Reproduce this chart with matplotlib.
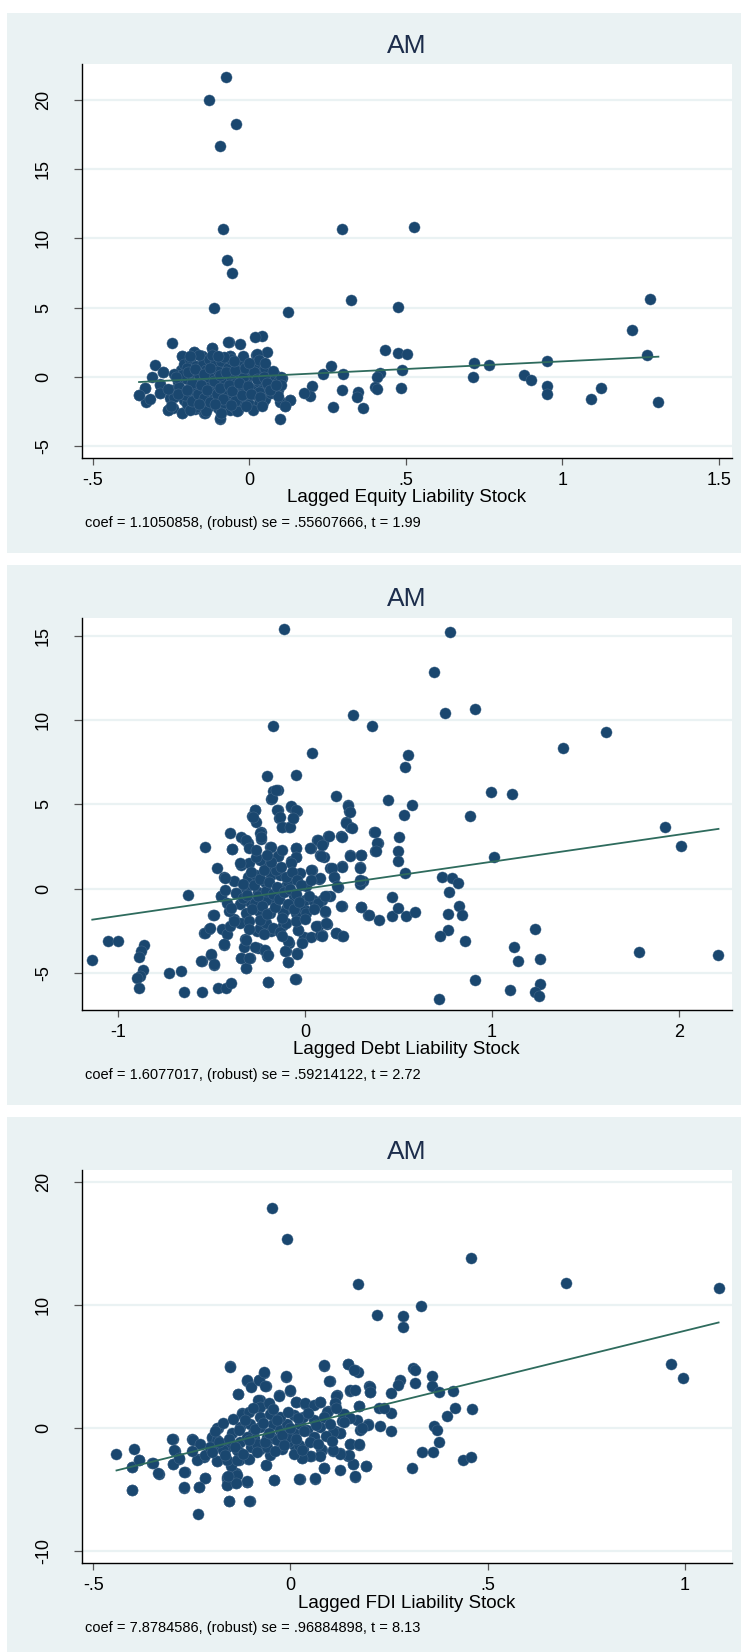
import numpy as np
import matplotlib
matplotlib.use("Agg")
import matplotlib.pyplot as plt
from matplotlib.patches import Rectangle

plt.rcParams['font.family'] = ['Liberation Sans', 'DejaVu Sans']

# residual pairs (x, y) for each added-variable plot
equity_pts = [
    (-0.076, 21.7), (-0.128, 20.0), (-0.044, 18.3), (-0.094, 16.7), (-0.085, 10.7),
    (0.295, 10.65), (0.527, 10.8), (-0.073, 8.45), (-0.056, 7.5), (-0.115, 5.0),
    (0.124, 4.65), (0.323, 5.55), (0.476, 5.05), (1.279, 5.6), (1.222, 3.35),
    (1.270, 1.6), (1.307, -1.83), (1.122, -0.85), (1.091, -1.65), (0.952, 1.16),
    (0.952, -0.7), (0.952, -1.27), (0.878, 0.13), (0.899, -0.26), (0.718, 1.0),
    (0.715, -0.03), (0.766, 0.85), (0.432, 1.91), (0.476, 1.73), (0.505, 1.65),
    (0.488, 0.49), (0.483, -0.85), (0.417, 0.23), (0.406, -0.05), (0.400, -0.78),
    (0.406, -0.9), (0.346, -1.09), (0.343, -1.47), (0.363, -2.25), (0.267, -2.22),
    (0.295, -0.98), (0.300, 0.16), (0.261, 0.78), (0.236, 0.18), (0.200, -0.65),
    (0.192, -1.37), (0.174, -1.16), (0.128, -1.68), (0.113, -2.09), (0.097, -3.07),
    (0.101, -1.8), (0.057, 1.78), (0.021, 1.6), (0.041, 2.97), (0.018, 2.9),
    (-0.030, 2.35), (-0.066, 2.53), (-0.119, 2.07), (-0.248, 2.45), (-0.063, 1.47),
    (-0.151, 1.47), (-0.177, 1.76), (-0.216, 1.47), (-0.095, -3.05), (-0.144, -2.66),
    (-0.215, -2.66), (-0.261, -2.45), (-0.246, -2.27), (-0.187, -2.2), (-0.174, -2.33),
    (-0.352, -1.32), (-0.332, -1.81), (-0.317, -1.6), (-0.335, -0.85), (-0.313, 0.0),
    (-0.302, 0.83), (-0.287, -0.52), (-0.276, 0.31), (-0.287, -1.16), (-0.334, -0.83),
    (-0.353, -1.34), (-0.275, 0.37), (-0.286, -0.59), (-0.286, -1.2), (-0.249, -0.96),
    (-0.254, -1.56), (-0.259, -2.41), (-0.217, 1.5), (-0.215, -2.6), (-0.185, -2.21),
    (-0.142, -2.65), (-0.094, -3.01), (-0.176, 1.75), (-0.153, 1.5), (-0.119, 2.06),
    (-0.068, 2.54), (-0.089, 1.09), (-0.062, 1.5), (-0.025, 0.86), (0.023, 1.65),
    (0.023, 0.73), (0.071, 0.25), (0.103, -0.11), (0.092, -0.96), (0.097, -1.8),
    (0.129, -1.68), (0.113, -2.12), (0.044, -1.8), (-0.036, -2.41), (-0.062, -2.41),
    (-0.23, -0.4), (-0.22, 0.5), (-0.22, -1.1), (-0.21, -1.7), (-0.21, 0.9),
    (-0.20, -0.2), (-0.20, -2.0), (-0.19, 1.2), (-0.19, -0.8), (-0.18, 0.3),
    (-0.18, -1.4), (-0.17, -0.5), (-0.17, 0.8), (-0.17, -2.2), (-0.16, -1.0),
    (-0.16, 0.1), (-0.15, 1.0), (-0.15, -1.8), (-0.15, -0.3), (-0.14, 0.5),
    (-0.14, -1.3), (-0.13, -0.7), (-0.13, -2.1), (-0.13, 1.3), (-0.12, 0.2),
    (-0.12, -1.6), (-0.11, -0.1), (-0.11, 0.9), (-0.11, -1.0), (-0.10, -2.3),
    (-0.10, 0.4), (-0.10, -0.6), (-0.09, -1.4), (-0.09, 1.1), (-0.08, -0.2),
    (-0.08, -1.9), (-0.07, 0.6), (-0.07, -0.9), (-0.06, 0.0), (-0.06, -1.5),
    (-0.06, 1.3), (-0.05, -2.2), (-0.05, -0.5), (-0.04, 0.9), (-0.04, -1.2),
    (-0.03, 0.2), (-0.03, -1.8), (-0.02, -0.8), (-0.02, 1.1), (-0.01, -0.3),
    (-0.01, -1.5), (0.00, 0.5), (0.00, -2.0), (0.01, -0.9), (0.01, 0.1),
    (0.02, -1.3), (0.02, 0.8), (0.03, -0.4), (0.03, -1.9), (0.04, 0.3),
    (0.04, -1.0), (0.05, -0.1), (0.05, -1.6), (0.06, 0.2), (0.06, -0.7),
    (0.07, -1.2), (0.07, -0.2), (0.08, 0.1), (0.08, -0.9), (0.09, -0.4),
    (0.09, -1.4), (0.10, 0.0), (0.10, -0.6), (-0.24, -1.5), (-0.24, 0.2),
    (-0.20, 0.6), (-0.19, -2.4), (-0.16, 1.6), (-0.14, -2.5), (-0.12, 1.6),
    (-0.09, -2.6), (-0.08, 1.4), (-0.04, -2.5), (-0.02, 1.5), (0.01, -2.4),
    (0.03, 1.2), (-0.26, -0.9), (-0.25, -2.1), (-0.18, -1.0), (-0.13, 0.0),
    (-0.07, -1.2), (-0.02, -0.1), (0.03, -1.1), (0.05, 0.6),
    (-0.225, -0.75), (-0.215, 0.15), (-0.205, -1.35), (-0.195, 0.35), (-0.185, -0.45),
    (-0.185, -1.75), (-0.175, 0.55), (-0.165, -1.25), (-0.155, -0.6), (-0.145, 0.2),
    (-0.145, -1.55), (-0.135, -0.95), (-0.125, 0.65), (-0.125, -1.85), (-0.115, -0.35),
    (-0.105, -1.25), (-0.095, 0.15), (-0.095, -0.85), (-0.085, -1.65), (-0.075, 0.35),
    (-0.065, -0.6), (-0.055, -1.05), (-0.045, 0.45), (-0.045, -1.75), (-0.035, -0.45),
    (-0.025, -1.3), (-0.015, 0.6), (-0.005, -0.65), (0.005, -1.25), (0.015, 0.3),
    (0.025, -0.15), (0.035, -1.45), (0.045, 0.0), (0.055, -0.45), (0.065, -1.0),
    (0.075, 0.4), (0.085, -0.6), (-0.235, -0.05), (-0.230, -1.25), (-0.20, -0.95),
    (-0.16, -2.0), (-0.11, -2.0), (-0.06, -2.05), (-0.01, -2.15), (0.04, -2.1),
    (-0.19, 1.5), (-0.10, 1.5), (-0.05, 1.1), (0.00, 1.0), (0.05, 1.0),
]

debt_pts = [
    (-0.109, 15.42), (0.778, 15.25), (0.692, 12.84), (0.747, 10.42), (0.909, 10.68),
    (0.255, 10.3), (-0.172, 9.66), (0.361, 9.66), (1.609, 9.28), (1.379, 8.33),
    (0.038, 8.03), (0.551, 7.92), (0.535, 7.25), (-0.200, 6.69), (-0.050, 6.72),
    (0.995, 5.76), (1.104, 5.64), (0.164, 5.53), (0.444, 5.28), (0.573, 4.98),
    (0.232, 4.94), (0.235, 4.62), (0.528, 4.36), (0.881, 4.32), (1.924, 3.64),
    (2.008, 2.56), (1.013, 1.91), (0.371, 3.35), (0.389, 2.73), (0.376, 2.25),
    (0.505, 3.05), (0.497, 2.25), (0.497, 1.63), (0.533, 0.93), (0.301, 1.99),
    (0.293, 1.27), (0.308, 0.49), (0.295, 0.28), (0.301, -1.1), (0.338, -1.57),
    (0.394, -1.82), (0.465, -0.51), (0.467, -1.61), (0.495, -1.14), (0.540, -1.59),
    (0.588, -1.36), (0.732, 0.68), (0.785, 0.66), (0.816, 0.32), (0.771, -0.19),
    (0.826, -1.0), (0.841, -1.57), (0.765, -1.5), (0.765, -2.44), (0.720, -2.82),
    (0.856, -3.09), (0.907, -5.42), (0.717, -6.5), (1.098, -6.02), (1.230, -2.39),
    (1.116, -3.47), (1.141, -4.28), (1.255, -4.15), (1.255, -5.64), (1.230, -6.14),
    (1.250, -6.36), (1.783, -3.75), (2.210, -3.9), (-1.136, -4.19), (-1.053, -3.07),
    (-1.000, -3.07), (-0.859, -3.35), (-0.874, -3.71), (-0.884, -4.03), (-0.864, -4.81),
    (-0.879, -5.19), (-0.896, -5.3), (-0.886, -5.87), (-0.727, -4.96), (-0.664, -4.87),
    (-0.646, -6.14), (-0.548, -6.1), (-0.626, -0.38), (-0.533, 2.46), (-0.551, -4.3),
    (-0.487, -4.51), (-0.503, -3.9), (-0.465, -5.87), (-0.419, -5.87), (-0.396, -5.59),
    (-0.540, -2.63), (-0.513, -2.39), (-0.432, -3.28), (-0.313, -4.72), (-0.341, -4.07),
    (-0.295, -4.09), (-0.197, -5.53), (-0.048, -5.36), (-0.091, -4.34), (-0.040, -3.79),
    (-0.101, -3.69), (-0.083, -3.22), (-0.200, -3.96), (-0.217, -3.6), (-0.250, -3.5),
    (-0.318, -3.0), (-0.326, -3.43), (-0.018, -3.16), (-0.003, -2.86), (0.030, -2.86),
    (0.091, -2.75), (0.164, -2.63), (0.199, -2.78), (0.068, -2.18), (0.119, -2.06),
    (0.197, -1.0), (0.106, -1.36), (0.119, -0.42), (0.091, -0.68), (0.056, -0.93),
    (0.177, 0.13), (0.154, 0.7), (0.136, 1.21), (0.197, 1.36), (0.240, 1.99),
    (0.126, 3.16), (0.194, 3.14), (0.222, 3.98), (0.242, 3.67), (0.030, 2.44),
    (0.066, 2.9), (0.096, 2.69), (0.101, 1.91), (0.081, 2.01), (0.038, 1.1),
    (0.073, 0.59), (-0.182, 5.34), (-0.172, 5.78), (-0.144, 5.87), (-0.146, 4.66),
    (-0.136, 4.19), (-0.121, 3.69), (-0.086, 3.69), (-0.073, 4.85), (-0.040, 4.64),
    (-0.061, 4.19), (-0.268, 4.68), (-0.285, 4.3), (-0.260, 3.98), (-0.235, 3.35),
    (-0.235, 2.97), (-0.402, 3.33), (-0.391, 2.35), (-0.321, 2.9), (-0.306, 2.73),
    (-0.184, 2.48), (-0.141, 1.97), (-0.076, 1.63), (-0.050, 2.44), (-0.048, 1.86),
    (-0.467, 1.23), (-0.432, 0.7), (-0.379, 0.44), (-0.341, 1.44), (-0.447, -0.42),
    (-0.490, -1.57), (-0.444, -2.37), (-0.414, -2.65), (-0.379, -1.78), (-0.313, -1.91),
    (-0.227, -1.84), (-0.255, -2.52), (-0.179, -2.48), (-0.141, -2.44), (-0.116, -2.16),
    (-0.038, -2.44), (-0.101, -1.21), (-0.066, -0.93), (-0.015, -1.21), (-0.184, -1.42),
    (-0.245, -0.78), (-0.293, -0.78), (-0.369, -0.25), (-0.348, -0.89),
    (-0.388, 2.37), (-0.429, 0.63), (-0.447, -0.45), (-0.488, -1.54), (-0.536, -2.63),
    (-0.509, -2.33), (-0.554, -4.3), (-0.500, -3.85), (-0.483, -4.46), (-0.434, -3.32),
    (-0.340, 3.1), (-0.317, 2.9), (-0.296, 2.41), (-0.269, 4.68), (-0.278, 4.28),
    (-0.238, 3.3), (-0.233, 3.06), (-0.183, 2.47), (-0.144, 1.95), (-0.174, 5.41),
    (-0.153, 5.86), (-0.149, 4.68), (-0.135, 4.28), (-0.121, 3.69), (-0.082, 3.69),
    (-0.073, 4.88), (-0.046, 4.68), (-0.064, 4.19), (-0.050, 2.41), (-0.046, 1.91),
    (-0.073, 1.52), (0.029, 2.41), (0.070, 2.9), (0.093, 2.61), (0.088, 1.95),
    (0.128, 3.14), (0.232, 4.88), (0.239, 4.58), (0.221, 3.93), (0.250, 3.6),
    (0.198, 3.1), (0.241, 1.95), (0.198, 1.32), (0.146, 1.23), (0.155, 0.69),
    (0.132, -0.45), (0.173, 0.14), (0.195, -1.0), (0.300, 2.0), (0.296, 1.26),
    (0.296, 0.53), (0.301, -1.05), (0.342, -1.54), (0.373, 3.34), (0.386, 2.74),
    (0.380, 2.27), (0.079, -2.73), (0.168, -2.63), (0.203, -2.79), (0.093, -2.82),
    (0.057, -2.23), (0.114, -2.03), (-0.014, -3.22), (-0.037, -2.43), (-0.091, -3.12),
    (-0.105, -3.71), (-0.041, -3.85), (-0.091, -4.34), (-0.053, -5.35), (-0.198, -5.55),
    (-0.313, -4.7), (-0.340, -4.1), (-0.296, -4.1), (-0.317, -3.02), (-0.269, -3.42),
    (-0.215, -3.61), (-0.198, -3.91), (-0.242, -2.33), (-0.206, -2.03), (-0.349, -2.03),
    (-0.402, -2.23), (-0.433, -3.28), (-0.379, -1.93), (-0.405, -1.34), (-0.417, -0.85),
    (-0.367, -0.26), (-0.313, -1.44), (-0.269, -0.85), (-0.296, -1.93), (-0.246, -1.34),
    (-0.162, -0.85), (-0.171, -2.33), (-0.135, -2.53), (-0.099, -2.03), (-0.117, -1.44),
    (-0.046, -1.44), (-0.002, -1.24), (-0.002, -0.65), (-0.059, -0.45), (-0.099, 0.14),
    (-0.144, -0.16), (-0.206, -0.65), (-0.251, -0.16), (-0.313, 0.04), (-0.304, 0.73),
    (-0.260, 0.83), (-0.206, 1.32), (-0.296, 1.52), (-0.349, 1.52), (-0.242, 1.72),
    (-0.180, 0.83), (-0.135, 0.83), (-0.091, 0.43), (-0.028, 0.93), (0.007, 0.14),
    (0.034, 1.13), (0.079, 0.63), (0.043, -0.65), (0.069, -0.85), (0.105, -0.45),
    (0.007, -1.44), (0.105, -1.34), (-0.046, -1.93), (-0.242, -1.84), (-0.429, -0.06),
    (-0.393, -1.14), (-0.153, 1.13), (-0.215, 0.43), (-0.331, -0.55),
    (-0.33, 0.3), (-0.31, -0.35), (-0.29, 1.0), (-0.28, -1.2), (-0.27, 0.2),
    (-0.26, 1.9), (-0.25, -0.4), (-0.24, 0.6), (-0.23, -1.0), (-0.22, 1.1),
    (-0.21, -0.1), (-0.20, -1.5), (-0.19, 0.4), (-0.18, 1.6), (-0.17, -0.3),
    (-0.16, -1.1), (-0.15, 0.1), (-0.14, -0.6), (-0.13, 1.3), (-0.12, -1.7),
    (-0.11, -0.2), (-0.10, 0.7), (-0.09, -0.9), (-0.08, 0.0), (-0.07, 1.0),
    (-0.06, -1.2), (-0.05, -0.3), (-0.04, 0.5), (-0.03, -0.8), (-0.02, 0.2),
    (0.00, -1.8), (0.02, -0.4), (0.03, 0.5), (0.05, -1.2), (-0.30, -2.4),
    (-0.22, -2.7), (-0.12, -2.8), (-0.26, 2.3), (-0.20, 2.0), (-0.12, 2.3),
]

fdi_pts = [
    (-0.046, 17.85), (-0.008, 15.34), (0.459, 13.76), (0.171, 11.7), (0.698, 11.76),
    (1.086, 11.36), (0.331, 9.9), (0.220, 9.16), (0.286, 9.07), (0.286, 8.21),
    (0.966, 5.21), (0.995, 4.03), (-0.152, 4.98), (0.086, 5.04), (0.147, 5.21),
    (0.163, 4.72), (0.171, 4.49), (0.310, 4.86), (0.315, 4.72), (0.359, 4.18),
    (0.279, 3.92), (0.315, 3.66), (0.274, 3.49), (0.359, 3.38), (0.376, 2.92),
    (0.413, 3.0), (0.417, 1.6), (0.461, 1.49), (0.396, 0.97), (0.364, 0.11),
    (0.372, -0.17), (0.378, -1.14), (0.335, -2.0), (0.362, -2.0), (0.438, -2.63),
    (0.459, -2.35), (0.309, -3.26), (0.254, 2.86), (0.255, 1.23), (0.254, -0.23),
    (0.228, 0.14), (0.226, 1.63), (0.238, 1.63), (0.200, 3.38), (0.201, 2.89),
    (0.174, 1.8), (0.192, -3.15), (0.163, -4.0), (0.160, -2.95), (0.125, -3.4),
    (0.126, -2.09), (0.147, -2.29), (0.108, -1.86), (0.085, -3.29), (0.062, -4.15),
    (0.024, -4.21), (0.030, -2.49), (0.052, -2.29), (0.079, -1.8), (0.150, -1.32),
    (0.175, -1.37), (-0.042, -4.29), (-0.061, -3.0), (-0.103, -5.95), (-0.156, -5.95),
    (-0.235, -6.98), (-0.401, -5.04), (-0.441, -2.12), (-0.396, -1.72), (-0.401, -3.2),
    (-0.383, -2.66), (-0.350, -2.86), (-0.334, -3.78), (-0.298, -0.94), (-0.293, -1.86),
    (-0.297, -2.92), (-0.283, -2.52), (-0.268, -3.63), (-0.269, -4.89), (-0.249, -0.94),
    (-0.235, -2.58), (-0.231, -4.86), (-0.216, -4.09), (-0.218, -2.35), (-0.160, -4.15),
    (-0.160, -4.66), (-0.137, -4.46), (-0.111, -4.38), (-0.137, -3.72), (-0.151, -3.15),
    (-0.186, -2.69), (-0.184, 0.0), (-0.200, -0.8), (-0.111, 3.83), (-0.101, 3.38),
    (-0.132, 2.78), (-0.080, 3.89), (-0.068, 4.43), (-0.063, 3.43), (-0.011, 4.15),
    (-0.001, 3.0), (-0.029, 2.63), (0.014, 2.06), (-0.077, 2.29), (-0.053, 1.95),
    (-0.122, 1.2), (0.101, 3.78), (0.117, 2.63), (0.114, 2.0), (0.074, 2.12),
    (0.038, 1.95), (0.096, 1.32), (0.133, 1.14), (0.152, 3.0), (0.132, 0.52),
    (0.169, 0.63), (0.196, 0.29), (0.177, -0.17), (0.127, -0.43), (0.113, -0.29),
    (0.061, -0.77), (0.010, -1.43), (0.031, -1.72), (-0.022, -1.66), (-0.046, -0.86),
    (-0.077, -1.77), (-0.092, -0.86), (-0.101, -1.57), (-0.131, -1.95), (-0.107, -2.58),
    (-0.131, -2.63), (-0.402, -3.19), (-0.383, -2.64), (-0.349, -2.86), (-0.336, -3.72),
    (-0.402, -5.03), (-0.299, -0.88), (-0.296, -1.83), (-0.298, -2.91), (-0.282, -2.5),
    (-0.269, -3.59), (-0.269, -4.86), (-0.247, -0.96), (-0.237, -2.59), (-0.216, -2.24),
    (-0.216, -4.08), (-0.233, -4.86), (-0.199, -0.75), (-0.186, 0.01), (-0.186, -2.72),
    (-0.161, -2.64), (-0.161, -4.0), (-0.161, -4.67), (-0.155, -5.95), (-0.136, -3.86),
    (-0.110, -4.41), (-0.104, -5.95), (-0.153, 4.94), (-0.132, 2.72), (-0.110, 3.92),
    (-0.100, 3.32), (-0.079, 3.92), (-0.068, 4.54), (-0.064, 3.37), (-0.123, 1.15),
    (-0.104, 1.28), (-0.081, 2.24), (-0.077, 1.69), (-0.053, 1.97), (-0.030, 2.56),
    (-0.011, 4.19), (-0.002, 3.05), (0.014, 2.1), (0.038, 1.97), (0.059, 1.83),
    (0.074, 2.1), (0.086, 5.06), (0.099, 3.8), (0.116, 2.56), (0.114, 1.97),
    (0.094, 1.28), (0.135, 1.15), (0.147, 5.22), (0.162, 4.67), (0.152, 3.05),
    (0.164, 3.05), (0.175, 1.75), (0.201, 3.32), (0.201, 2.91), (0.196, 0.26),
    (0.181, -0.01), (0.152, 0.75), (0.135, 0.47), (0.126, -0.47), (0.109, -0.34),
    (0.150, -1.34), (0.175, -1.34), (0.160, -2.91), (0.192, -3.1), (0.164, -3.94),
    (0.148, -2.24), (0.126, -2.15), (0.108, -1.83), (0.084, -3.24), (0.063, -4.08),
    (0.077, -1.69), (0.076, -2.29), (0.050, -2.29), (0.029, -2.45), (0.023, -4.19),
    (0.010, -2.1), (-0.041, -4.27), (-0.061, -3.05), (-0.051, -2.24), (-0.022, -1.69),
    (-0.005, -1.15), (0.021, -1.42), (-0.106, -2.51), (-0.136, -2.64), (-0.110, -4.35),
    (-0.137, -4.49), (-0.159, -3.94), (-0.191, -1.56), (-0.161, -1.56), (-0.127, -1.15),
    (-0.148, -0.47), (-0.127, 0.07), (-0.102, 0.34), (-0.094, -0.47), (-0.077, 0.07),
    (-0.060, -0.75), (-0.043, 0.34), (-0.026, -0.2), (-0.009, 0.34), (0.008, -0.47),
    (0.025, 0.34), (0.042, -0.2), (0.059, 0.61), (0.059, -0.75), (0.076, 0.07),
    (-0.077, 0.88), (-0.051, 1.15), (-0.026, 0.88), (0.008, 1.02), (0.033, 0.88),
    (-0.110, -0.75), (-0.085, -1.29), (-0.034, -1.02), (-0.009, -0.75), (-0.060, -1.56),
    (-0.136, -1.83), (-0.170, -1.83), (-0.186, -1.02), (-0.203, -1.56),
    (-0.19, -0.3), (-0.18, -1.2), (-0.17, 0.4), (-0.165, -2.2), (-0.155, -0.9),
    (-0.145, 0.7), (-0.14, -1.6), (-0.13, -0.2), (-0.12, -2.1), (-0.115, 0.6),
    (-0.105, -1.0), (-0.095, 1.6), (-0.09, -0.1), (-0.085, -2.0), (-0.07, 0.4),
    (-0.065, -1.2), (-0.055, -0.4), (-0.045, 1.5), (-0.04, -1.9), (-0.035, 0.6),
    (-0.02, -0.6), (-0.015, -1.4), (-0.005, 1.3), (0.0, 0.0), (0.015, -0.9),
    (0.02, 0.8), (0.03, -1.8), (0.035, -0.3), (0.045, 1.2), (0.05, -1.2),
    (0.065, 0.2), (0.07, -1.3), (0.085, 0.9), (0.09, -0.7), (0.10, 0.3),
    (0.105, -1.1), (0.115, 1.6), (-0.20, -2.0), (-0.23, -1.3), (-0.25, -1.9),
]

titles = ["AM", "AM", "AM"]
xlabels = ["Lagged Equity Liability Stock", "Lagged Debt Liability Stock",
           "Lagged FDI Liability Stock"]
coefs = [1.1050858, 1.6077017, 7.8784586]
notes = ["coef = 1.1050858, (robust) se = .55607666, t = 1.99",
         "coef = 1.6077017, (robust) se = .59214122, t = 2.72",
         "coef = 7.8784586, (robust) se = .96884898, t = 8.13"]
xticks = [[-0.5, 0, 0.5, 1, 1.5], [-1, 0, 1, 2], [-0.5, 0, 0.5, 1]]
xticklabels = [["-.5", "0", ".5", "1", "1.5"], ["-1", "0", "1", "2"],
               ["-.5", "0", ".5", "1"]]
yticks = [[-5, 0, 5, 10, 15, 20], [-5, 0, 5, 10, 15], [-10, 0, 10, 20]]
xlims = [(-0.536, 1.541), (-1.192, 2.28), (-0.529, 1.119)]
ylims = [(-5.88, 22.6), (-7.18, 16.08), (-11.0, 20.98)]

W, H = 741, 1652
BG = '#eaf2f3'
NAVY = '#1a476f'
FIT = '#2e6b5d'

# pixel layout of each panel: (box top, box bottom, plot top, plot bottom)
panels = [(12.5, 553, 64.3, 457.9), (564.6, 1105, 617.5, 1010), (1117, 1652, 1169.7, 1563)]
plot_left, plot_right = 81.8, 731.6

fig = plt.figure(figsize=(W / 100, H / 100), dpi=100, facecolor='white')


def fx(px):
    return px / W


def fy(py):
    return 1 - py / H


for i, pts in enumerate([equity_pts, debt_pts, fdi_pts]):
    box_top, box_bot, top, bot = panels[i]
    fig.patches.append(Rectangle((fx(7), fy(box_bot)), fx(W - 7), (box_bot - box_top) / H,
                                 transform=fig.transFigure, facecolor=BG, edgecolor='none',
                                 zorder=-10))
    ax = fig.add_axes([fx(plot_left), fy(bot), fx(plot_right - plot_left), (bot - top) / H])
    ax.set_zorder(2)
    ax.set_facecolor('white')
    xy = np.array(pts)
    ax.scatter(xy[:, 0], xy[:, 1], s=64, color=NAVY, edgecolors='#4a6d8e',
               linewidths=0.3, zorder=3)
    xs = np.array([xy[:, 0].min(), xy[:, 0].max()])
    ax.plot(xs, coefs[i] * xs, color=FIT, lw=1.3, zorder=4)

    ax.set_xlim(*xlims[i])
    ax.set_ylim(*ylims[i])
    ax.set_xticks(xticks[i])
    ax.set_xticklabels(xticklabels[i])
    ax.set_yticks(yticks[i])
    ax.set_yticklabels([str(v) for v in yticks[i]])
    ax.grid(axis='y', color=BG, lw=1.6, zorder=1)
    ax.set_axisbelow(True)
    for side in ['top', 'right']:
        ax.spines[side].set_visible(False)
    for side in ['left', 'bottom']:
        ax.spines[side].set_color('black')
        ax.spines[side].set_linewidth(1.0)
    ax.tick_params(axis='x', length=5, width=0.9, color='#555555', labelsize=13, pad=5)
    ax.tick_params(axis='y', length=5.5, width=0.9, color='#555555', labelsize=13,
                   pad=16, labelrotation=90)
    for lab in ax.get_yticklabels():
        lab.set_va('center')

    cx = (plot_left + plot_right) / 2
    fig.text(fx(cx), fy(top - 18), titles[i], ha='center', va='center',
             fontsize=19, color='#1c2d4b')
    fig.text(fx(cx), fy(bot + 40), xlabels[i], ha='center', va='center', fontsize=13.5)
    fig.text(fx(85), fy(bot + 65), notes[i], ha='left', va='center', fontsize=10.5)

fig.savefig('out.png', dpi=100, facecolor='white')
